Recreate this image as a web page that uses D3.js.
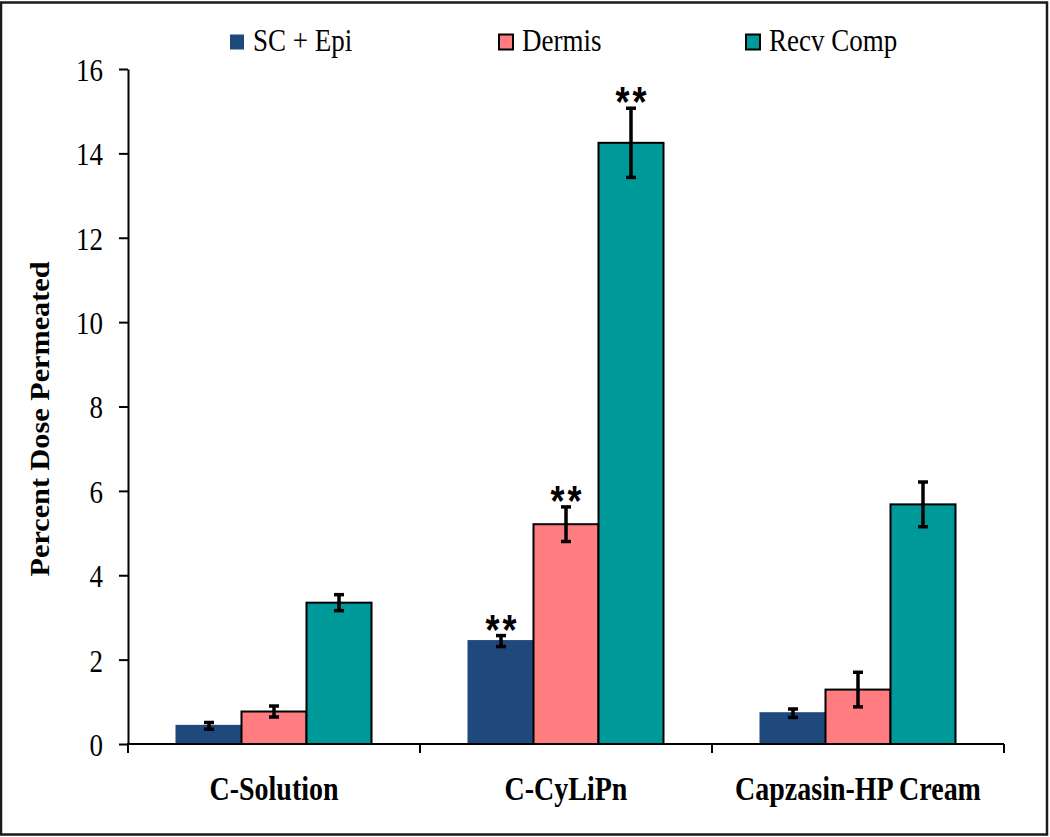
<!DOCTYPE html>
<html>
<head>
<meta charset="utf-8">
<script src="https://cdn.jsdelivr.net/npm/d3@7/dist/d3.min.js"></script>
<style>
  html, body { margin: 0; padding: 0; background: #fff; }
  svg { display: block; }
</style>
</head>
<body>
<svg id="chart" width="1050" height="837"></svg>
<script>
// ---- data ----
const categories = ["C-Solution", "C-CyLiPn", "Capzasin-HP Cream"];
const seriesNames = ["SC + Epi", "Dermis", "Recv Comp"];
const scEpi     = [0.43, 2.44, 0.73];
const dermis    = [0.77, 5.21, 1.29];
const recvComp  = [3.35, 14.25, 5.68];
const scEpiErr    = [0.08, 0.13, 0.10];
const dermisErr   = [0.13, 0.41, 0.41];
const recvCompErr = [0.19, 0.82, 0.53];
const scEpiSig    = ["", "**", ""];
const dermisSig   = ["", "**", ""];
const recvCompSig = ["", "**", ""];
const yTicks = [0, 2, 4, 6, 8, 10, 12, 14, 16];
const yTitle = "Percent Dose Permeated";

const colors = ["#1F497D", "#FF7C80", "#009999"];
const strokes = ["#1F497D", "#000", "#000"];

const values = [scEpi, dermis, recvComp];
const errs = [scEpiErr, dermisErr, recvCompErr];
const sigs = [scEpiSig, dermisSig, recvCompSig];

const rows = [];
categories.forEach((c, ci) => {
  seriesNames.forEach((s, si) => {
    rows.push({cat: c, ser: s, si: si, v: values[si][ci], e: errs[si][ci], sig: sigs[si][ci]});
  });
});

const svg = d3.select("#chart");
const SY = 1.2; // vertical text stretch of the original

// frame
svg.append("rect").attr("x", 1).attr("y", 2.5).attr("width", 1046).attr("height", 832)
  .attr("fill", "none").attr("stroke", "#1a1a1a").attr("stroke-width", 2.5);

const x0 = d3.scaleBand().domain(categories).range([128, 1004]).padding(0);
const x1 = d3.scaleBand().domain(seriesNames).range([48.5, 243.5]).padding(0);
const y = d3.scaleLinear().domain([0, 16]).range([744, 69]);

// bars
const g = svg.append("g");
g.selectAll("rect.bar").data(rows).join("rect")
  .attr("class", "bar")
  .attr("x", d => x0(d.cat) + x1(d.ser))
  .attr("y", d => y(d.v))
  .attr("width", x1.bandwidth())
  .attr("height", d => y(0) - y(d.v))
  .attr("fill", d => colors[d.si])
  .attr("stroke", d => strokes[d.si])
  .attr("stroke-width", 2);

// error bars
const eb = g.selectAll("g.err").data(rows).join("g").attr("class", "err")
  .attr("transform", d => `translate(${x0(d.cat) + x1(d.ser) + x1.bandwidth() / 2},0)`);
eb.append("line").attr("x1", 0).attr("x2", 0)
  .attr("y1", d => y(d.v + d.e)).attr("y2", d => y(d.v - d.e))
  .attr("stroke", "#000").attr("stroke-width", 3.5);
eb.append("line").attr("x1", -5).attr("x2", 5)
  .attr("y1", d => y(d.v + d.e)).attr("y2", d => y(d.v + d.e))
  .attr("stroke", "#000").attr("stroke-width", 3.5);
eb.append("line").attr("x1", -5).attr("x2", 5)
  .attr("y1", d => y(d.v - d.e)).attr("y2", d => y(d.v - d.e))
  .attr("stroke", "#000").attr("stroke-width", 3.5);

// significance marks
eb.filter(d => d.sig).append("text")
  .attr("transform", d => `translate(1.5,${y(d.v + d.e) + 8}) scale(1,${SY})`)
  .attr("text-anchor", "middle")
  .attr("font-family", "Liberation Sans, Arial, sans-serif")
  .attr("font-weight", "bold")
  .attr("font-size", 36)
  .attr("letter-spacing", 3)
  .attr("fill", "#000")
  .text(d => d.sig);

// y axis
const yAxis = svg.append("g").attr("transform", "translate(128,0)")
  .call(d3.axisLeft(y).tickValues(yTicks).tickSize(9).tickSizeOuter(0).tickPadding(16).tickFormat(d3.format("d")));
yAxis.select(".domain").attr("stroke", "#000").attr("stroke-width", 2);
yAxis.selectAll(".tick line").attr("stroke", "#000").attr("stroke-width", 2);
yAxis.selectAll(".tick text")
  .attr("font-family", "Liberation Serif, Times New Roman, serif")
  .attr("font-size", 27)
  .attr("fill", "#000")
  .attr("dy", null)
  .attr("dominant-baseline", "central")
  .attr("transform", `scale(1,${SY})`);

// x axis (boundaries between categories)
const xa = svg.append("g");
xa.append("line").attr("x1", x0.range()[0] - 1).attr("x2", x0.range()[1])
  .attr("y1", y(0)).attr("y2", y(0)).attr("stroke", "#000").attr("stroke-width", 2);
const bounds = categories.map(c => x0(c)).concat([x0.range()[1]]);
xa.selectAll("line.xt").data(bounds).join("line").attr("class", "xt")
  .attr("x1", d => d).attr("x2", d => d)
  .attr("y1", y(0)).attr("y2", y(0) + 9)
  .attr("stroke", "#000").attr("stroke-width", 2);
xa.selectAll("text.xl").data(categories).join("text").attr("class", "xl")
  .attr("transform", d => `translate(${x0(d) + x0.bandwidth() / 2},800) scale(1,${SY})`)
  .attr("text-anchor", "middle")
  .attr("font-family", "Liberation Serif, Times New Roman, serif")
  .attr("font-weight", "bold")
  .attr("font-size", 28)
  .attr("fill", "#000")
  .text(d => d);

// y title
svg.append("text")
  .attr("transform", `translate(49,419) scale(1,1.08) rotate(-90)`)
  .attr("text-anchor", "middle")
  .attr("font-family", "Liberation Serif, Times New Roman, serif")
  .attr("font-weight", "bold")
  .attr("font-size", 28)
  .attr("fill", "#000")
  .text(yTitle);

// legend
const legendX = [230, 499, 746];
const lg = svg.append("g").selectAll("g").data(seriesNames).join("g")
  .attr("transform", (d, i) => `translate(${legendX[i]},42)`);
lg.append("rect").attr("x", 0).attr("y", -7.5).attr("width", 14).attr("height", 15)
  .attr("fill", (d, i) => colors[i])
  .attr("stroke", (d, i) => i === 0 ? "none" : "#000").attr("stroke-width", 2);
lg.append("text")
  .attr("transform", `translate(23,9) scale(1,${SY})`)
  .attr("font-family", "Liberation Serif, Times New Roman, serif")
  .attr("font-size", 27)
  .attr("fill", "#000")
  .text(d => d);
</script>
</body>
</html>
